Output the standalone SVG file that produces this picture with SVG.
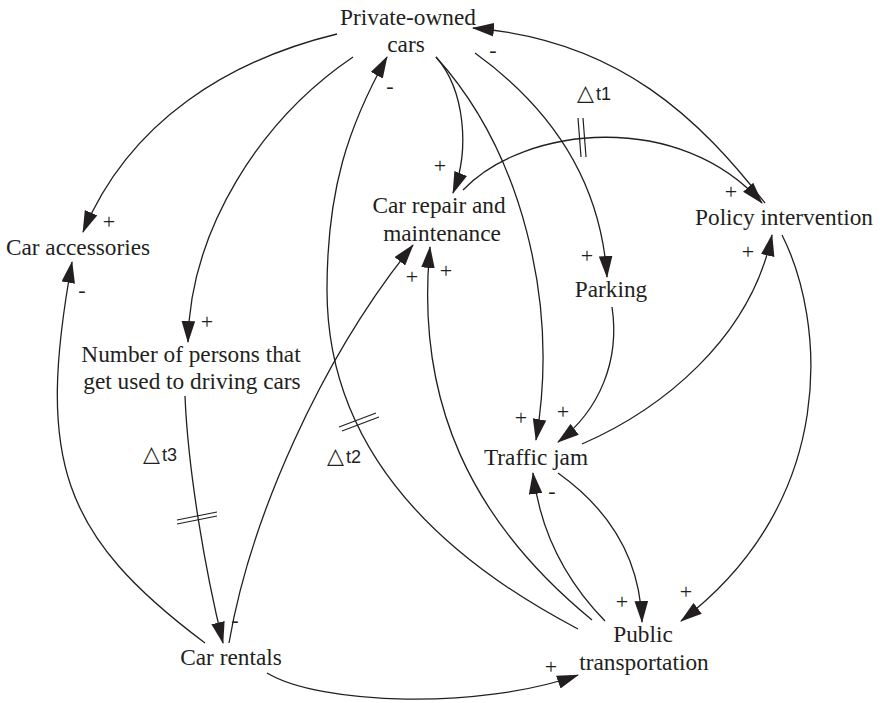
<svg xmlns="http://www.w3.org/2000/svg" width="880" height="703" viewBox="0 0 880 703">
  <style>
    .node { font-family: "Liberation Serif", "Times New Roman", serif; font-size: 23.3px; fill: #231f20; text-anchor: middle; }
    .edge { fill: none; stroke: #231f20; stroke-width: 1.3; marker-end: url(#arrow); }
    .delay { fill: none; stroke: #231f20; stroke-width: 1.2; }
    .pol { font-family: "Liberation Serif", "Times New Roman", serif; font-size: 22px; fill: #231f20; text-anchor: middle; }
    .dt { font-family: "Liberation Sans", "DejaVu Sans", sans-serif; font-size: 18px; fill: #231f20; }
    .tri { font-family: "DejaVu Sans", sans-serif; font-size: 22px; }
  </style>
  <defs>
    <marker id="arrow" markerUnits="userSpaceOnUse" markerWidth="22" markerHeight="14" viewBox="0 0 21 13" refX="20" refY="6.5" orient="auto">
      <path d="M0,0 L21,6.5 L0,13 z" fill="#231f20"/>
    </marker>
  </defs>
  <rect width="880" height="703" fill="#ffffff"/>

  <!-- causal links -->
  <g id="connectors">
    <path class="edge" d="M337,34 C230,60 130,120 83,232"/>
    <path class="edge" d="M353,57 C260,120 190,230 188,342"/>
    <path class="edge" d="M205,643 C61,535 36,460 72,262"/>
    <path class="edge" d="M185,396 C188,470 205,570 223,643"/>
    <path class="edge" d="M229,643 C250,520 320,360 413,245"/>
    <path class="edge" d="M592,620 C470,520 415,400 430,247"/>
    <path class="edge" d="M578,629 C454,564 327,460 327,290 C327,190 348,127 387,57"/>
    <path class="edge" d="M605,621 C565,580 540,530 533,473"/>
    <path class="edge" d="M558,473 C610,510 640,560 642,622"/>
    <path class="edge" d="M782,235 C825,320 840,500 681,621"/>
    <path class="edge" d="M582,444 C660,410 750,340 772,235"/>
    <path class="edge" d="M612,307 C620,360 600,410 558,442"/>
    <path class="edge" d="M436,57 C520,150 560,300 536,440"/>
    <path class="edge" d="M436,57 C465,90 470,150 453,193"/>
    <path class="edge" d="M475,53 C540,100 600,170 607,277"/>
    <path class="edge" d="M463,190 C525,125 680,110 762,203"/>
    <path class="edge" d="M765,203 C700,120 620,40 473,28"/>
    <path class="edge" d="M267,673 C320,705 480,710 578,675"/>

    <!-- delay marks -->
    <path class="delay" d="M578,118 L581,157 M583,118 L586,157"/>
    <path class="delay" d="M339,427 L376,413 M342,431 L379,417"/>
    <path class="delay" d="M177,520 L217,512 M177,524 L217,516"/>
    <text class="dt" x="577" y="100"><tspan class="tri">△</tspan><tspan dx="2">t1</tspan></text>
    <text class="dt" x="327" y="463"><tspan class="tri">△</tspan><tspan dx="2">t2</tspan></text>
    <text class="dt" x="143" y="461"><tspan class="tri">△</tspan><tspan dx="2">t3</tspan></text>

    <!-- link polarities -->
    <text class="pol" x="109" y="229">+</text>
    <text class="pol" x="207" y="329">+</text>
    <text class="pol" x="440" y="173">+</text>
    <text class="pol" x="412" y="284">+</text>
    <text class="pol" x="446" y="278">+</text>
    <text class="pol" x="587" y="263">+</text>
    <text class="pol" x="731" y="199">+</text>
    <text class="pol" x="748" y="259">+</text>
    <text class="pol" x="521" y="425">+</text>
    <text class="pol" x="563" y="419">+</text>
    <text class="pol" x="622" y="609">+</text>
    <text class="pol" x="686" y="599">+</text>
    <text class="pol" x="551" y="674">+</text>
    <text class="pol" x="493" y="57">-</text>
    <text class="pol" x="390" y="93">-</text>
    <text class="pol" x="82" y="297">-</text>
    <text class="pol" x="552" y="498">-</text>
    <text class="pol" x="235" y="627">-</text>
  </g>

  <g id="private-owned-cars">
    <text class="node" x="408" y="25">Private-owned</text>
    <text class="node" x="406" y="52">cars</text>
  </g>
  <g id="car-accessories">
    <text class="node" x="78" y="255">Car accessories</text>
  </g>
  <g id="car-repair">
    <text class="node" x="439" y="213">Car repair and</text>
    <text class="node" x="442" y="241">maintenance</text>
  </g>
  <g id="policy-intervention">
    <text class="node" x="784" y="225">Policy intervention</text>
  </g>
  <g id="parking">
    <text class="node" x="611" y="297">Parking</text>
  </g>
  <g id="persons-driving">
    <text class="node" x="191" y="362">Number of persons that</text>
    <text class="node" x="192" y="389">get used to driving cars</text>
  </g>
  <g id="traffic-jam">
    <text class="node" x="536" y="465">Traffic jam</text>
  </g>
  <g id="car-rentals">
    <text class="node" x="231" y="665">Car rentals</text>
  </g>
  <g id="public-transportation">
    <text class="node" x="643" y="642">Public</text>
    <text class="node" x="644" y="670">transportation</text>
  </g>
</svg>
